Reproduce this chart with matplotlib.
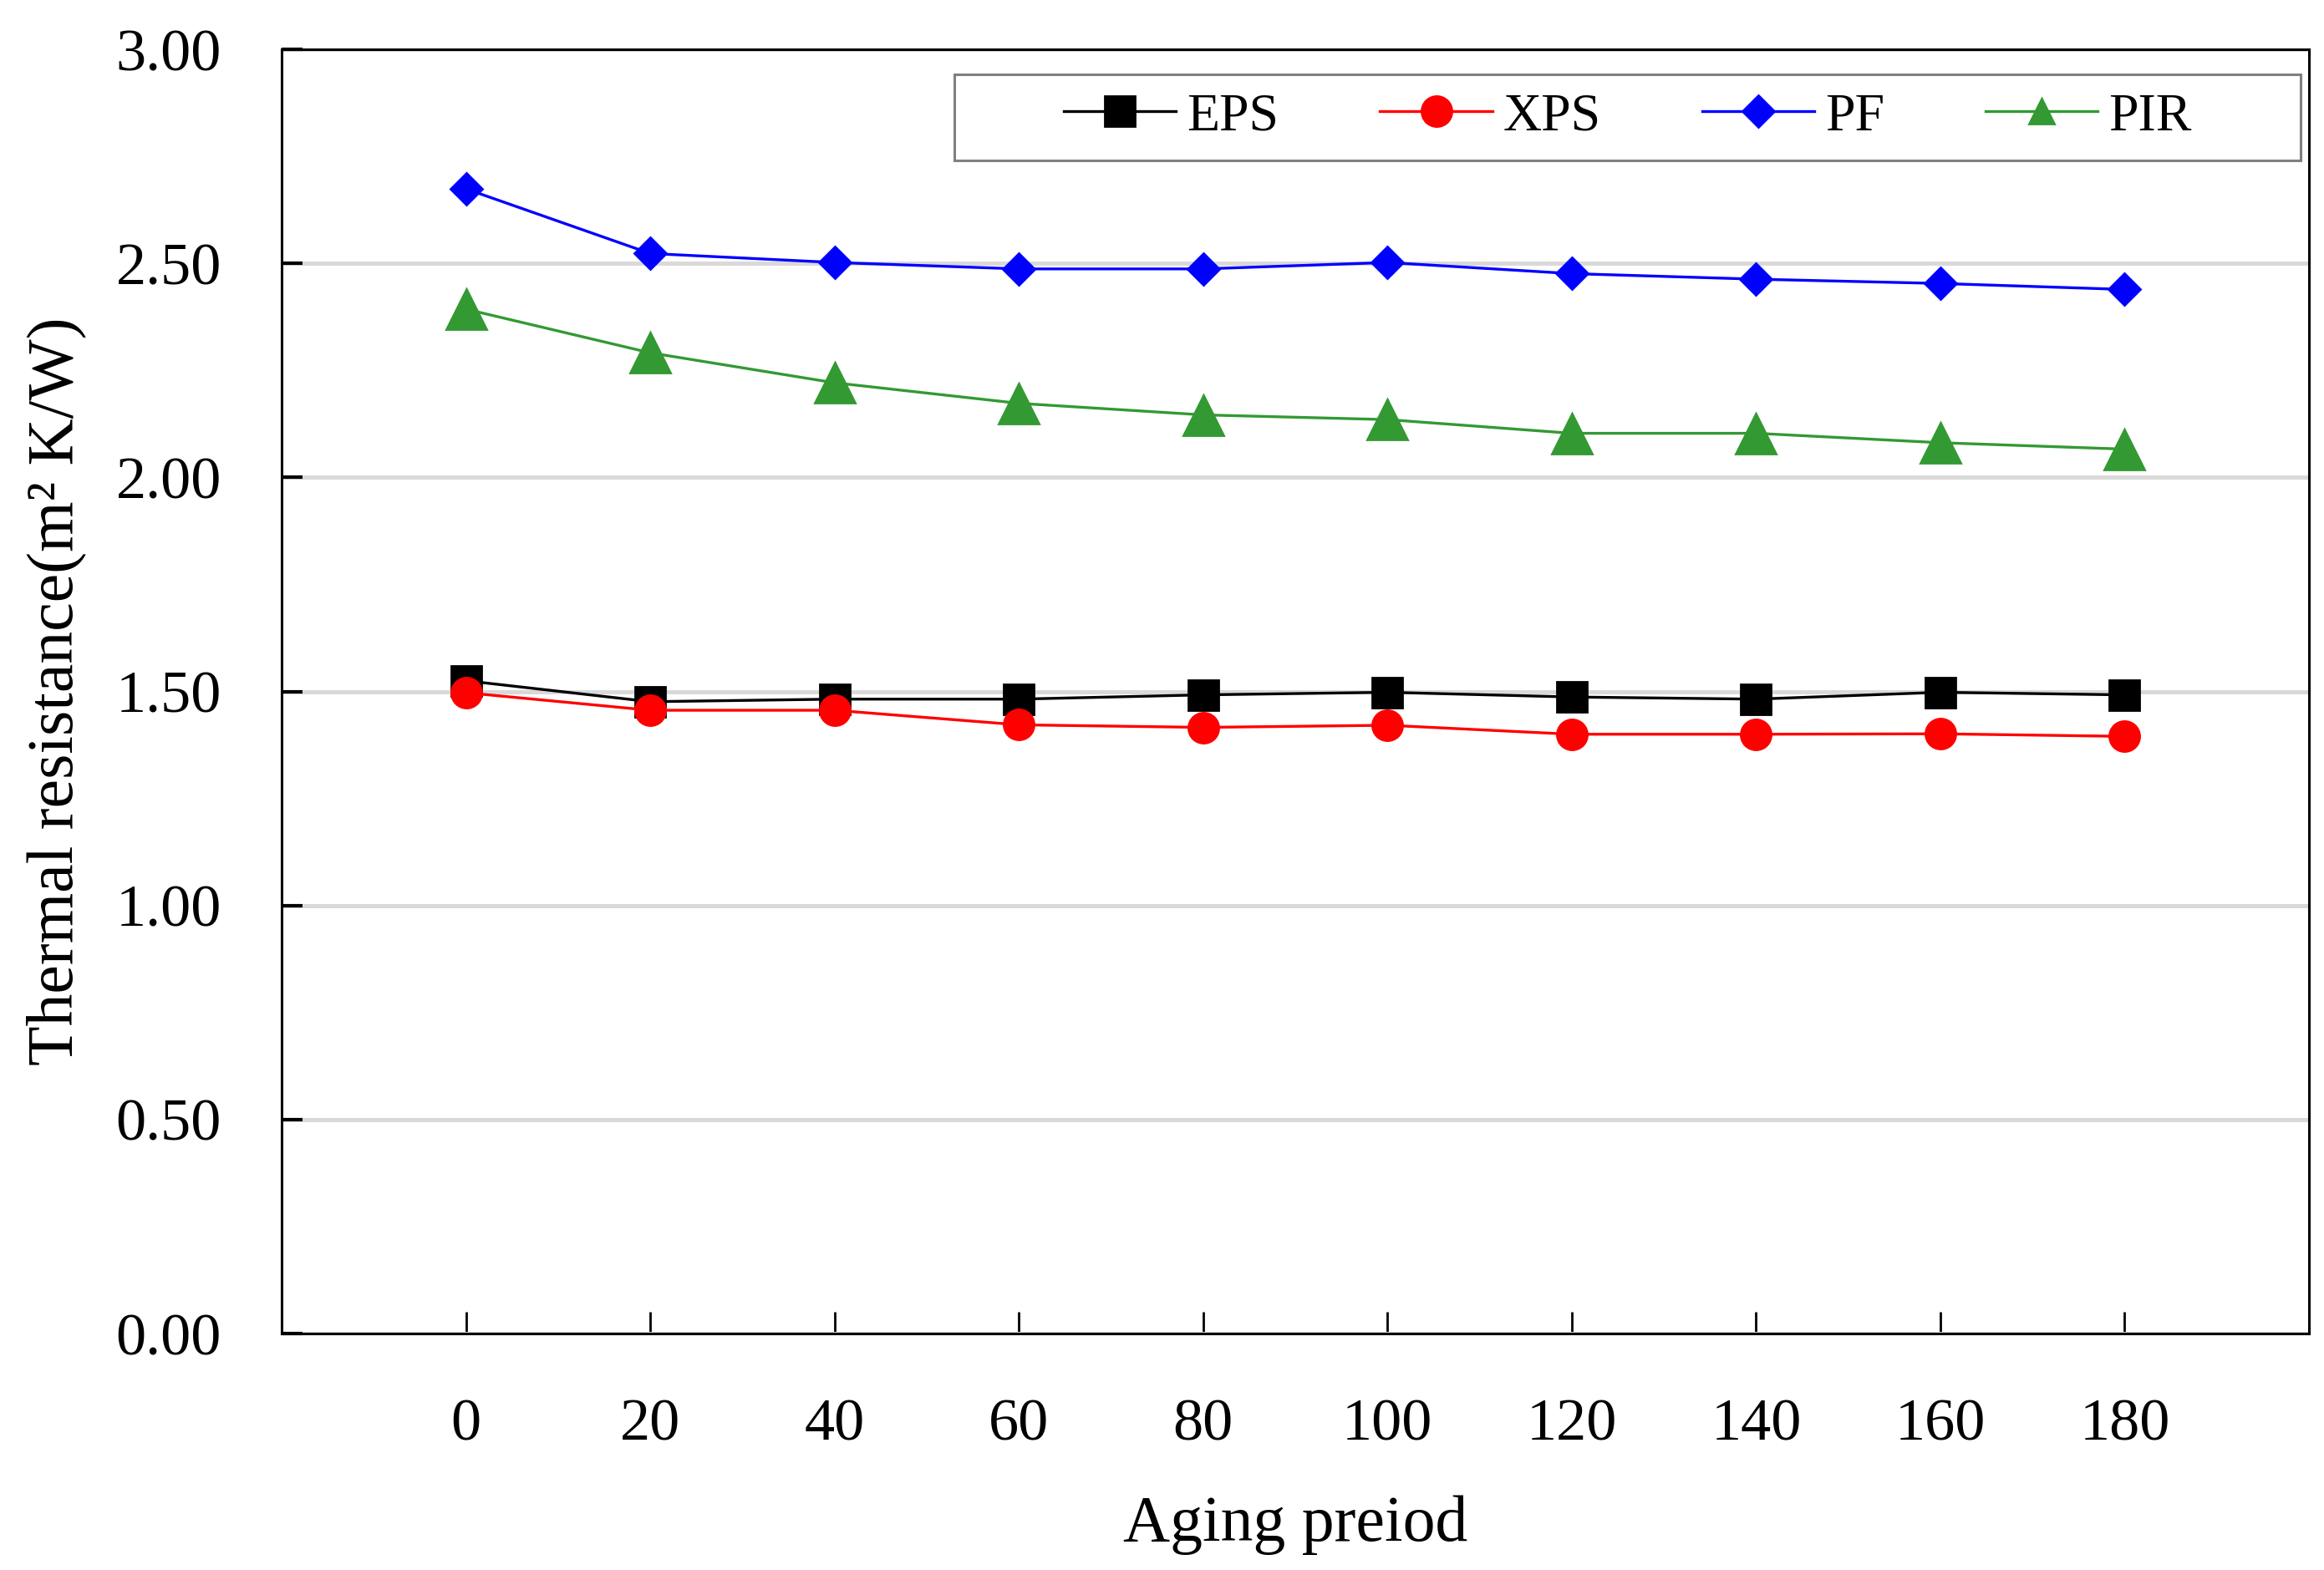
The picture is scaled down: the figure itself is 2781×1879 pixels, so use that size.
import matplotlib
matplotlib.use('Agg')
import matplotlib.pyplot as plt
from matplotlib.patches import Rectangle

# aging period (x) and thermal resistance of each insulation type
days = [0, 20, 40, 60, 80, 100, 120, 140, 160, 180]
eps = [1.525, 1.476, 1.482, 1.482, 1.492, 1.498, 1.487, 1.482, 1.498, 1.492]
xps = [1.497, 1.456, 1.456, 1.422, 1.416, 1.421, 1.400, 1.400, 1.401, 1.395]
pf = [2.674, 2.523, 2.502, 2.487, 2.487, 2.502, 2.476, 2.463, 2.453, 2.439]
pir = [2.393, 2.291, 2.221, 2.173, 2.146, 2.135, 2.103, 2.103, 2.081, 2.066]
yticks = [0.0, 0.5, 1.0, 1.5, 2.0, 2.5, 3.0]

plt.rcParams['font.family'] = ['Liberation Serif', 'DejaVu Serif']

fig = plt.figure(figsize=(13.905, 9.395), dpi=200)
ax = fig.add_axes([0.1212, 0.1506, 0.8723, 0.818])

ax.plot(days, eps, marker='s', ms=13, color='black', lw=1.2, label='EPS', zorder=3)
ax.plot(days, xps, marker='o', ms=13, color='red', lw=1.2, label='XPS', zorder=3)
ax.plot(days, pf, marker='D', ms=9.7, color='blue', lw=1.2, label='PF', zorder=3)
ax.plot(days, pir, marker='^', ms=17.5, color='#339933', lw=1.2, label='PIR', zorder=3)

ax.set_xlim(-20, 200)
ax.set_ylim(0, 3)
ax.set_xticks(days)
ax.set_yticks(yticks)
ax.set_yticklabels(['%.2f' % v for v in yticks])
ax.yaxis.grid(True, color='#d9d9d9', lw=1.8, zorder=0)
ax.set_axisbelow(True)
ax.tick_params(axis='x', direction='in', length=9.5, width=1, pad=28, labelsize=26)
ax.tick_params(axis='y', direction='in', length=9, width=1.5, pad=26, labelsize=26)
for s in ax.spines.values():
    s.set_linewidth(1.1)

ax.set_xlabel('Aging preiod', fontsize=28, va='center')
ax.xaxis.set_label_coords(0.5, -0.149)
ax.set_ylabel('Thermal resistance(m² K/W)', fontsize=28, va='center')
ax.yaxis.set_label_coords(-0.111, 0.5)

# legend box drawn separately so the entries can sit centred with wide margins
box = Rectangle((0.332, 0.9135), 0.664, 0.067, transform=ax.transAxes,
                facecolor='white', edgecolor='#808080', lw=1.1, zorder=4)
ax.add_patch(box)
leg = ax.legend(loc='center', ncol=4, bbox_to_anchor=(0.664, 0.947),
                frameon=False, fontsize=23, handlelength=2.1, handletextpad=0.2,
                columnspacing=1.9, borderaxespad=0, borderpad=0)
leg.set_zorder(5)
for h, m in zip(leg.legend_handles, [13, 13, 9.7, 11]):
    h.set_markersize(m)

fig.savefig('out.png', dpi=200)
